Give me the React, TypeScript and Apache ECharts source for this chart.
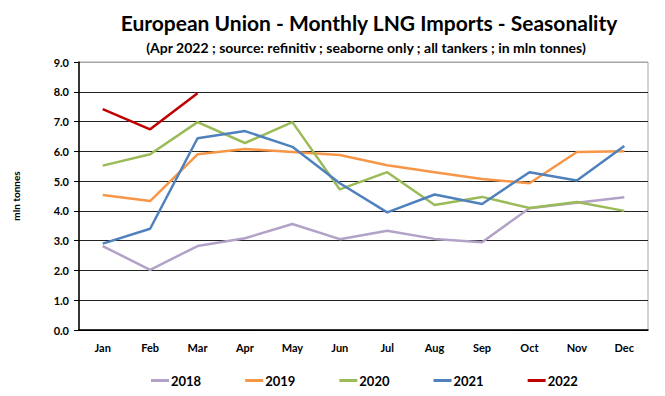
import React, { useEffect, useRef } from "react";
import * as echarts from "echarts";

const months = ["Jan", "Feb", "Mar", "Apr", "May", "Jun", "Jul", "Aug", "Sep", "Oct", "Nov", "Dec"];
const s2018 = [2.82, 2.02, 2.82, 3.08, 3.56, 3.05, 3.33, 3.06, 2.95, 4.09, 4.27, 4.46];
const s2019 = [4.53, 4.33, 5.9, 6.08, 5.98, 5.88, 5.53, 5.3, 5.07, 4.93, 5.98, 6.0];
const s2020 = [5.52, 5.9, 6.98, 6.28, 6.98, 4.72, 5.3, 4.2, 4.47, 4.1, 4.3, 4.0];
const s2021 = [2.9, 3.4, 6.44, 6.68, 6.15, 4.93, 3.95, 4.55, 4.23, 5.3, 5.02, 6.18];
const s2022 = [7.42, 6.74, 7.95];
const seriesNames = ["2018", "2019", "2020", "2021", "2022"];
const seriesColors = ["#b3a2c7", "#f79646", "#9bbb59", "#4f81bd", "#c00000"];

const FONT = "Lato";

export default function App() {
  const ref = useRef<HTMLDivElement>(null);
  useEffect(() => {
    if (!ref.current) return;
    const chart = echarts.init(ref.current, null, { renderer: "svg" });
    const data = [s2018, s2019, s2020, s2021, s2022];
    chart.setOption({
      animation: false,
      backgroundColor: "#fff",
      title: [
        {
          text: "European Union - Monthly LNG Imports - Seasonality",
          left: 364,
          top: 7,
          textAlign: "center",
          textStyle: { fontFamily: FONT, fontSize: 21, fontWeight: "bold", color: "#000" },
        },
        {
          text: "(Apr 2022 ; source: refinitiv ; seaborne only ; all tankers ; in mln tonnes)",
          left: 361,
          top: 35,
          textAlign: "center",
          textStyle: { fontFamily: FONT, fontSize: 14, fontWeight: "bold", color: "#000" },
        },
      ],
      grid: {
        left: 79,
        right: 17,
        top: 62,
        bottom: 66,
        show: true,
        borderColor: "#a6a6a6",
        borderWidth: 1,
      },
      legend: {
        left: 151,
        top: 374,
        padding: 0,
        itemWidth: 18,
        itemHeight: 3,
        itemGap: 44,
        icon: "rect",
        textStyle: { fontFamily: FONT, fontSize: 13, fontWeight: "bold", color: "#000", padding: [0, 0, 0, -3] },
        data: seriesNames,
      },
      xAxis: {
        type: "category",
        data: months,
        boundaryGap: true,
        axisLine: { lineStyle: { color: "#000", width: 1.5 } },
        axisTick: { show: false },
        axisLabel: { fontFamily: FONT, fontSize: 11, fontWeight: "bold", color: "#000", margin: 12 },
      },
      yAxis: {
        type: "value",
        min: 0,
        max: 9,
        interval: 1,
        name: "mln tonnes",
        nameLocation: "middle",
        nameGap: 58,
        nameRotate: 90,
        nameTextStyle: { fontFamily: FONT, fontSize: 10, fontWeight: "bold", color: "#000" },
        axisLine: { show: true, lineStyle: { color: "#000", width: 1.5 } },
        axisTick: { show: true, length: 5, lineStyle: { color: "#000" } },
        axisLabel: {
          fontFamily: FONT,
          fontSize: 11,
          fontWeight: "bold",
          color: "#000",
          margin: 10,
          formatter: (v: number) => v.toFixed(1),
        },
        splitLine: {
          lineStyle: {
            color: ["#000", "#222", "#222", "#222", "#222", "#222", "#222", "#222", "#222", "#a6a6a6"],
            width: 1,
          },
        },
      },
      series: seriesNames.map((n, i) => ({
        name: n,
        type: "line",
        data: data[i],
        symbol: "none",
        color: seriesColors[i],
        lineStyle: { width: 2.5, color: seriesColors[i] },
        z: 2 + i,
      })),
    });
    return () => chart.dispose();
  }, []);
  return (
    <div
      ref={ref}
      style={{ position: "fixed", left: 0, top: 0, width: 665, height: 396 }}
    />
  );
}
